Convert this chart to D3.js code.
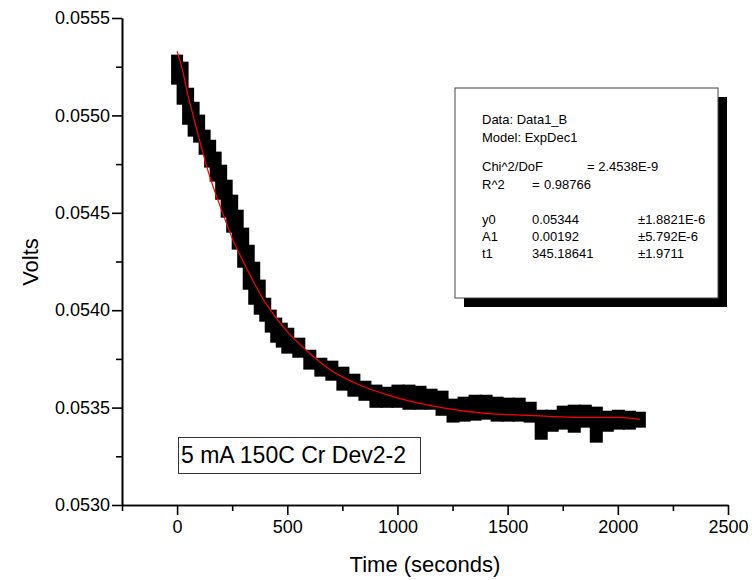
<!DOCTYPE html>
<html>
<head>
<meta charset="utf-8">
<script src="https://cdn.jsdelivr.net/npm/d3@7"></script>
<style>
  body { margin: 0; background: #fff; }
  svg { font-family: "Liberation Sans", Arial, sans-serif; }
</style>
</head>
<body>
<div id="chart"></div>
<script>
const timeSec = [0, 25, 50, 75, 100, 125, 150, 175, 200, 225, 250, 275, 300, 325, 350, 375, 400,
    425, 450, 475, 500, 550, 600, 650, 700, 750, 800, 850, 900, 950, 1000, 1050, 1100, 1150,
    1200, 1250, 1300, 1350, 1400, 1450, 1500, 1550, 1600, 1650, 1700, 1750, 1800, 1850, 1900,
    1950, 2000, 2050, 2100];

const voltsHigh = [0.055312, 0.055276, 0.055142, 0.055070, 0.055004, 0.054927, 0.054875, 0.054814,
    0.054747, 0.054670, 0.054593, 0.054516, 0.054424, 0.054336, 0.054249, 0.054157, 0.054064,
    0.054003, 0.053962, 0.053936, 0.053910, 0.053859, 0.053797, 0.053756, 0.053741, 0.053710,
    0.053674, 0.053638, 0.053618, 0.053607, 0.053618, 0.053618, 0.053612, 0.053597, 0.053587,
    0.053546, 0.053556, 0.053566, 0.053566, 0.053556, 0.053551, 0.053551, 0.053530, 0.053489,
    0.053489, 0.053510, 0.053515, 0.053515, 0.053505, 0.053484, 0.053489, 0.053484, 0.053479];

const voltsLow = [0.055158, 0.055055, 0.054952, 0.054891, 0.054860, 0.054798, 0.054732, 0.054660,
    0.054567, 0.054475, 0.054398, 0.054311, 0.054218, 0.054105, 0.054028, 0.053977, 0.053941,
    0.053885, 0.053833, 0.053808, 0.053777, 0.053756, 0.053695, 0.053659, 0.053638, 0.053587,
    0.053556, 0.053535, 0.053499, 0.053499, 0.053499, 0.053489, 0.053489, 0.053489, 0.053458,
    0.053423, 0.053428, 0.053433, 0.053438, 0.053428, 0.053428, 0.053428, 0.053423, 0.053335,
    0.053376, 0.053387, 0.053371, 0.053397, 0.053320, 0.053376, 0.053387, 0.053387, 0.053397];

// ExpDec1 fit curve (red)
const fitTime = [0, 25, 50, 75, 100, 150, 200, 250, 300, 400, 500, 600, 700, 800, 1000, 1200,
    1400, 1600, 1800, 2000, 2100];
const fitVolts = [0.05533, 0.05523, 0.05510, 0.05499, 0.05488, 0.05468, 0.05452, 0.05437, 0.05425,
    0.05404, 0.05389, 0.05378, 0.05369, 0.05363, 0.05355, 0.05350, 0.05347, 0.05346, 0.05345,
    0.05345, 0.05344];

// axis ticks
const xTicks = [0, 500, 1000, 1500, 2000, 2500];
const xMinorTicks = [-250, 250, 750, 1250, 1750, 2250];
const yTicks = [0.0530, 0.0535, 0.0540, 0.0545, 0.0550, 0.0555];
const yMinorTicks = [0.05325, 0.05375, 0.05425, 0.05475, 0.05525];

// fit results box text
const fitLines = [
    ["Data: Data1_B"],
    ["Model: ExpDec1"],
    [],
    ["Chi^2/DoF", "= 2.4538E-9"],
    ["R^2", "=", "0.98766"],
    [],
    ["y0", "0.05344", "±1.8821E-6"],
    ["A1", "0.00192", "±5.792E-6"],
    ["t1", "345.18641", "±1.9711"]
];

const width = 752;
const height = 580;

const svg = d3.select("#chart")
    .append("svg")
    .attr("width", width)
    .attr("height", height);

const xScale = d3.scaleLinear()
    .domain([-250, 2500])
    .range([122, 728]);

const yScale = d3.scaleLinear()
    .domain([0.0530, 0.0555])
    .range([505, 18]);

//data band: one block per sample
const samples = timeSec.map(function(t, i) {
    return { t: t, hi: voltsHigh[i], lo: voltsLow[i] };
});

function blockWidth(d, i) {
    const next = i < samples.length - 1 ? samples[i + 1].t : d.t;
    return Math.max(12, xScale(next) - xScale(d.t) + 2);
}

svg.append("g")
    .selectAll("rect")
    .data(samples)
    .enter()
    .append("rect")
    .attr("x", function(d) { return xScale(d.t) - 6; })
    .attr("y", function(d) { return yScale(d.hi); })
    .attr("width", blockWidth)
    .attr("height", function(d) { return yScale(d.lo) - yScale(d.hi); })
    .attr("fill", "#000");

//fit line
const line = d3.line()
    .x(function(d, i) { return xScale(fitTime[i]); })
    .y(function(d) { return yScale(d); })
    .curve(d3.curveMonotoneX);

svg.append("path")
    .datum(fitVolts)
    .attr("d", line)
    .attr("fill", "none")
    .attr("stroke", "#ff0000")
    .attr("stroke-width", 1.2);

//axes
function styleAxis(g) {
    g.selectAll("path, line").attr("stroke", "#000").attr("stroke-width", 1.6);
    g.selectAll("text").attr("font-size", "18px").attr("fill", "#000")
        .attr("font-family", "Liberation Sans, Arial, sans-serif");
}

svg.append("g")
    .attr("transform", "translate(0,505)")
    .call(d3.axisBottom(xScale).tickValues(xTicks).tickSize(10).tickSizeOuter(0).tickPadding(5)
        .tickFormat(d3.format("d")))
    .call(styleAxis);

svg.append("g")
    .attr("transform", "translate(0,505)")
    .call(d3.axisBottom(xScale).tickValues(xMinorTicks).tickSize(6).tickSizeOuter(0).tickFormat(""))
    .call(styleAxis);

svg.append("g")
    .attr("transform", "translate(122,0)")
    .call(d3.axisLeft(yScale).tickValues(yTicks).tickSize(10).tickSizeOuter(0).tickPadding(2)
        .tickFormat(d3.format(".4f")))
    .call(styleAxis);

svg.append("g")
    .attr("transform", "translate(122,0)")
    .call(d3.axisLeft(yScale).tickValues(yMinorTicks).tickSize(6).tickSizeOuter(0).tickFormat(""))
    .call(styleAxis);

//axis titles
svg.append("text")
    .attr("x", 425)
    .attr("y", 572)
    .attr("text-anchor", "middle")
    .attr("font-size", "22px")
    .text("Time (seconds)");

svg.append("text")
    .attr("transform", "rotate(-90)")
    .attr("x", -262)
    .attr("y", 38)
    .attr("text-anchor", "middle")
    .attr("font-size", "22px")
    .text("Volts");

//fit results box with shadow
svg.append("rect")
    .attr("x", 464)
    .attr("y", 97)
    .attr("width", 263)
    .attr("height", 210)
    .attr("fill", "#000");

svg.append("rect")
    .attr("x", 455)
    .attr("y", 88)
    .attr("width", 263)
    .attr("height", 210)
    .attr("fill", "#fff")
    .attr("stroke", "#444")
    .attr("stroke-width", 1);

const lineY = [124, 142, 0, 171, 189, 0, 224, 241, 258];
const colX = {
    3: [482, 587],
    4: [482, 532, 544],
    6: [482, 532, 638],
    7: [482, 532, 638],
    8: [482, 532, 638]
};

fitLines.forEach(function(parts, i) {
    parts.forEach(function(p, j) {
        const xs = colX[i] || [482];
        svg.append("text")
            .attr("x", xs[j])
            .attr("y", lineY[i])
            .attr("font-size", "13px")
            .text(p);
    });
});

//sample label
svg.append("rect")
    .attr("x", 178.5)
    .attr("y", 437.5)
    .attr("width", 242)
    .attr("height", 36)
    .attr("fill", "#fff")
    .attr("stroke", "#333")
    .attr("stroke-width", 1);

svg.append("text")
    .attr("x", 181)
    .attr("y", 463)
    .attr("font-size", "23px")
    .text("5 mA 150C Cr Dev2-2");
</script>
</body>
</html>
